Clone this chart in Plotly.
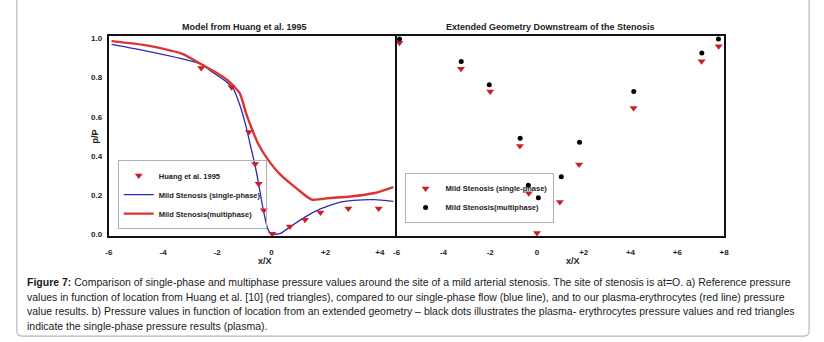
import plotly.graph_objects as go

# ---- Panel a) Model from Huang et al. 1995 ----
x_blue = [-5.90, -4.60, -3.31, -2.59, -2.20, -1.75, -1.40, -1.17, -0.94, -0.77, -0.60, -0.48,
          -0.31, -0.14, 0.0, 0.34, 0.70, 1.25, 1.79, 2.48, 3.03, 3.81, 4.50]
p_blue = [0.970, 0.936, 0.897, 0.869, 0.830, 0.788, 0.742, 0.662, 0.552, 0.451, 0.350, 0.263,
          0.131, 0.030, 0.0, 0.005, 0.039, 0.089, 0.128, 0.162, 0.173, 0.177, 0.168]

x_red = [-5.90, -4.60, -3.31, -2.53, -2.09, -1.63, -1.17, -0.94, -0.71, -0.48, -0.14, 0.34,
         0.95, 1.49, 2.15, 2.92, 3.81, 4.50]
p_red = [0.987, 0.965, 0.923, 0.864, 0.830, 0.788, 0.721, 0.620, 0.535, 0.460, 0.384, 0.303,
         0.232, 0.177, 0.185, 0.193, 0.211, 0.241]

x_huang = [-2.59, -1.47, -0.83, -0.60, -0.47, -0.28, 0.03, 0.68, 1.24, 1.81, 2.84, 3.96]
p_huang = [0.850, 0.751, 0.522, 0.359, 0.258, 0.123, 0.002, 0.039, 0.074, 0.111, 0.131, 0.131]

# ---- Panel b) Extended geometry ----
x_multi = [-5.88, -3.24, -2.04, -0.72, -0.37, 0.06, 1.04, 1.82, 4.14, 7.05, 7.76]
p_multi = [0.998, 0.882, 0.764, 0.491, 0.251, 0.187, 0.294, 0.470, 0.729, 0.926, 0.998]
x_single = [-5.88, -3.25, -2.00, -0.73, -0.35, 0.00, 0.98, 1.80, 4.13, 7.04, 7.77]
p_single = [0.978, 0.845, 0.729, 0.451, 0.209, 0.007, 0.165, 0.357, 0.645, 0.884, 0.960]

xt_left = [-6, -4, -2, 0, 2, 4]
xt_left_text = ["-6", "-4", "-2", "0", "+2", "+4"]
xt_right = [-6, -4, -2, 0, 2, 4, 6, 8]
xt_right_text = ["-6", "-4", "-2", "0", "+2", "+4", "+6", "+8"]
yt = [0.0, 0.2, 0.4, 0.6, 0.8, 1.0]
yt_text = ["0.0", "0.2", "0.4", "0.6", "0.8", "1.0"]

caption_lines = [
    "<b>Figure 7:</b> Comparison of single-phase and multiphase pressure values around the site of a mild arterial stenosis. The site of stenosis is at=O. a) Reference pressure",
    "values in function of location from Huang et al. [10] (red triangles), compared to our single-phase flow (blue line), and to our plasma-erythrocytes (red line) pressure",
    "value results. b) Pressure values in function of location from an extended geometry \u2013 black dots illustrates the plasma- erythrocytes pressure values and red triangles",
    "indicate the single-phase pressure results (plasma).",
]

W, H = 824, 342
NARROW = "Liberation Sans Narrow, Arial Narrow, Liberation Sans, Arial, sans-serif"
RED_LINE = "#d93535"
BLUE_LINE = "#2b2bb8"
RED_MARK = "#c8202a"


def px(x):
    return x / W


def py(y):
    return 1 - y / H


fig = go.Figure()

fig.add_trace(go.Scatter(x=x_blue, y=p_blue, mode="lines", name="Mild Stenosis (single-phase)",
                         line=dict(color=BLUE_LINE, width=1.3, shape="spline", smoothing=0.6),
                         xaxis="x", yaxis="y", legend="legend", legendrank=2))
fig.add_trace(go.Scatter(x=x_red, y=p_red, mode="lines", name="Mild Stenosis(multiphase)",
                         line=dict(color=RED_LINE, width=2.4, shape="spline", smoothing=0.6),
                         xaxis="x", yaxis="y", legend="legend", legendrank=3))
fig.add_trace(go.Scatter(x=x_huang, y=p_huang, mode="markers", name="Huang et al. 1995",
                         marker=dict(symbol="triangle-down", size=7, color=RED_MARK),
                         xaxis="x", yaxis="y", legend="legend", legendrank=1))

fig.add_trace(go.Scatter(x=x_single, y=p_single, mode="markers", name="Mild Stenosis (single-phase)",
                         marker=dict(symbol="triangle-down", size=7, color=RED_MARK),
                         xaxis="x2", yaxis="y2", legend="legend2", legendrank=1, cliponaxis=False))
fig.add_trace(go.Scatter(x=x_multi, y=p_multi, mode="markers", name="Mild Stenosis(multiphase)",
                         marker=dict(symbol="circle", size=5, color="black"),
                         xaxis="x2", yaxis="y2", legend="legend2", legendrank=2, cliponaxis=False))

axis_common = dict(showgrid=False, zeroline=False, showline=True, linecolor="#111111", linewidth=2,
                   mirror=True, ticks="outside", ticklen=7, tickcolor="rgba(0,0,0,0)",
                   tickfont=dict(family=NARROW, size=8, color="#222222", weight="bold"))

legend_font = dict(family=NARROW, size=7.5, color="#222222", weight="bold")

fig.update_layout(
    width=W, height=H, margin=dict(l=0, r=0, t=0, b=0),
    paper_bgcolor="white", plot_bgcolor="white", showlegend=True,
    xaxis=dict(domain=[px(106), px(395)], range=[-6, 4.55], tickvals=xt_left, ticktext=xt_left_text,
               anchor="y", **axis_common),
    yaxis=dict(domain=[py(238), py(35)], range=[-0.010, 1.015], tickvals=yt, ticktext=yt_text,
               anchor="x", **{**axis_common, "ticklen": 3}),
    xaxis2=dict(domain=[px(397), px(728)], range=[-6, 8], tickvals=xt_right, ticktext=xt_right_text,
                anchor="y2", **axis_common),
    yaxis2=dict(domain=[py(238), py(35)], range=[-0.010, 1.015], anchor="x2", showticklabels=False,
                **{k: v for k, v in axis_common.items() if k not in ("ticks", "ticklen", "tickcolor", "tickfont")}),
    legend=dict(x=px(115), y=py(161), xanchor="left", yanchor="top", bgcolor="rgba(255,255,255,0)",
                bordercolor="#b0b0b0", borderwidth=1, itemwidth=30, tracegroupgap=0,
                font=legend_font),
    legend2=dict(x=px(405), y=py(174), xanchor="left", yanchor="top", bgcolor="rgba(255,255,255,0)",
                 bordercolor="#b0b0b0", borderwidth=1, itemwidth=30, tracegroupgap=0,
                 font=legend_font),
)

annots = [
    dict(text="Model from Huang et al. 1995", x=px(243.5), y=py(26)),
    dict(text="Extended Geometry Downstream of the Stenosis", x=px(552.5), y=py(26)),
    dict(text="x/X", x=px(264), y=py(263)),
    dict(text="x/X", x=px(575), y=py(263)),
    dict(text="p/P", x=px(92), y=py(137), textangle=-90),
]
for a in annots:
    fig.add_annotation(xref="paper", yref="paper", showarrow=False, xanchor="center", yanchor="middle",
                       font=dict(family=NARROW, size=9, color="#222222", weight="bold"), **a)

caption_y = [284, 299, 314, 329]
for line, yy in zip(caption_lines, caption_y):
    fig.add_annotation(xref="paper", yref="paper", showarrow=False, xanchor="left", yanchor="middle",
                       align="left", x=px(21), y=py(yy), text=line,
                       font=dict(family="Liberation Sans, Arial, sans-serif", size=10.5, color="#1a1a1a"))

# frame with rounded bottom corners
r = 5
path = (f"M {px(13)},{py(-5)} L {px(13)},{py(339 - r)} Q {px(13)},{py(339)} {px(13 + r)},{py(339)} "
        f"L {px(814 - r)},{py(339)} Q {px(814)},{py(339)} {px(814)},{py(339 - r)} L {px(814)},{py(-5)}")
fig.add_shape(type="path", xref="paper", yref="paper", path=path, line=dict(color="#b8b8b8", width=1.2))

fig.write_html("out.html", config={"displayModeBar": False},
               post_script="document.body.style.margin='0px';document.body.style.overflow='hidden';")
